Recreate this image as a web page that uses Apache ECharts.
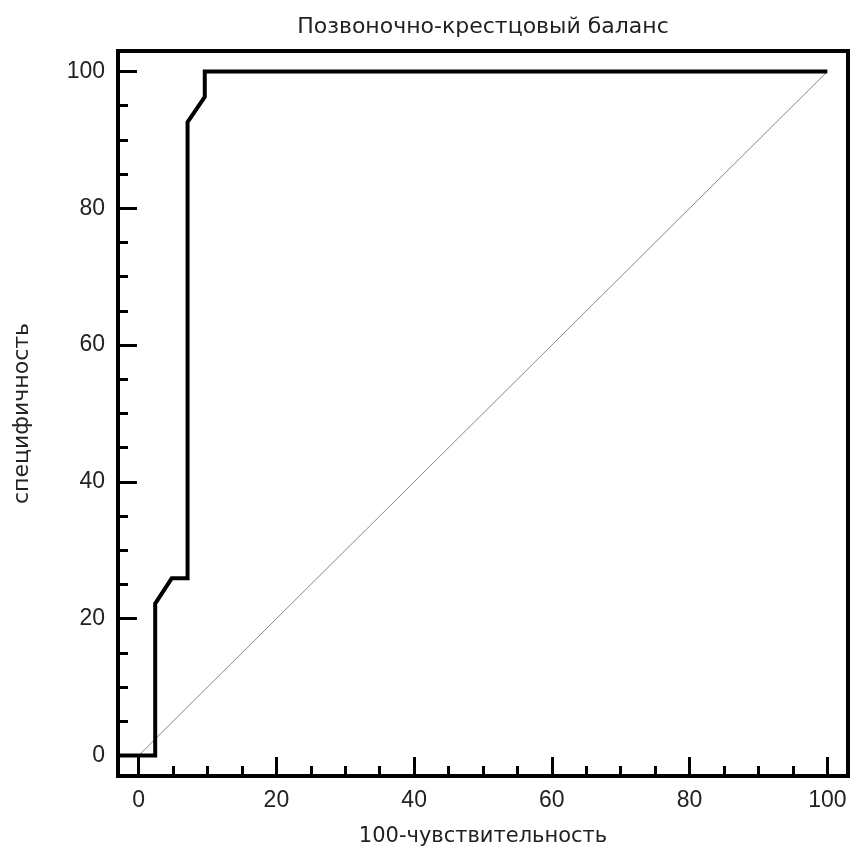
<!DOCTYPE html>
<html>
<head>
<meta charset="utf-8">
<script src="https://cdn.jsdelivr.net/npm/echarts@6/dist/echarts.min.js"></script>
<style>html,body{margin:0;padding:0;background:#fff;}#c{width:850px;height:850px;}</style>
</head>
<body>
<div id="c"></div>
<script>
const titleText = 'Позвоночно-крестцовый баланс';
const xName = '100-чувствительность';
const yName = 'специфичность';
const majorTicks = [0, 20, 40, 60, 80, 100];
const minorTicks = [5, 10, 15, 25, 30, 35, 45, 50, 55, 65, 70, 75, 85, 90, 95];
const rocX = [-3, 2.4, 2.4, 4.8, 7.1, 7.1, 9.6, 9.6, 100];
const rocY = [0, 0, 22.2, 25.9, 25.9, 92.6, 96.3, 100, 100];
const refX = [0, 100];
const refY = [0, 100];

const font = 'Liberation Sans, Arial, sans-serif';
const nameFont = 'DejaVu Sans, sans-serif';
const chart = echarts.init(document.getElementById('c'));
function axisPair(dim) {
  const base = {
    type: 'value', min: -3, max: 103,
    axisLine: {show: false, onZero: false},
    splitLine: {show: false}
  };
  const major = Object.assign({}, base, {
    axisTick: {show: true, inside: true, length: 19, customValues: majorTicks, lineStyle: {color: '#000', width: 3}},
    axisLabel: {show: true, customValues: majorTicks, margin: 13, fontFamily: font, fontSize: 23, color: '#222'}
  });
  const minor = Object.assign({}, base, {
    axisTick: {show: true, inside: true, length: 10, customValues: minorTicks, lineStyle: {color: '#000', width: 3}},
    axisLabel: {show: false}
  });
  if (dim === 'x') {
    major.position = 'bottom'; minor.position = 'bottom';
    major.name = xName; major.nameLocation = 'middle'; major.nameGap = 50;
    major.nameTextStyle = {fontFamily: nameFont, fontSize: 21, color: '#222'};
  } else {
    major.position = 'left'; minor.position = 'left';
    major.name = yName; major.nameLocation = 'middle'; major.nameGap = 85;
    major.nameTextStyle = {fontFamily: nameFont, fontSize: 22, color: '#222'};
  }
  return [major, minor];
}
const option = {
  backgroundColor: '#fff',
  animation: false,
  title: {text: titleText, left: 478, textAlign: 'center', top: 11,
    textStyle: {fontFamily: nameFont, fontSize: 22, fontWeight: 'normal', color: '#222'}},
  grid: {left: 118, right: 2, top: 51, bottom: 74, show: true, borderColor: '#000', borderWidth: 4,
    backgroundColor: 'transparent', outerBoundsMode: 'none', containLabel: false},
  xAxis: axisPair('x'),
  yAxis: axisPair('y'),
  series: [
    {type: 'line', data: refX.map((v, i) => [v, refY[i]]), symbol: 'none',
      lineStyle: {color: '#888', width: 1}, silent: true, z: 1},
    {type: 'line', data: rocX.map((v, i) => [v, rocY[i]]), symbol: 'none',
      lineStyle: {color: '#000', width: 4, join: 'miter'}, silent: true, z: 2}
  ]
};
chart.setOption(option);
</script>
</body>
</html>
